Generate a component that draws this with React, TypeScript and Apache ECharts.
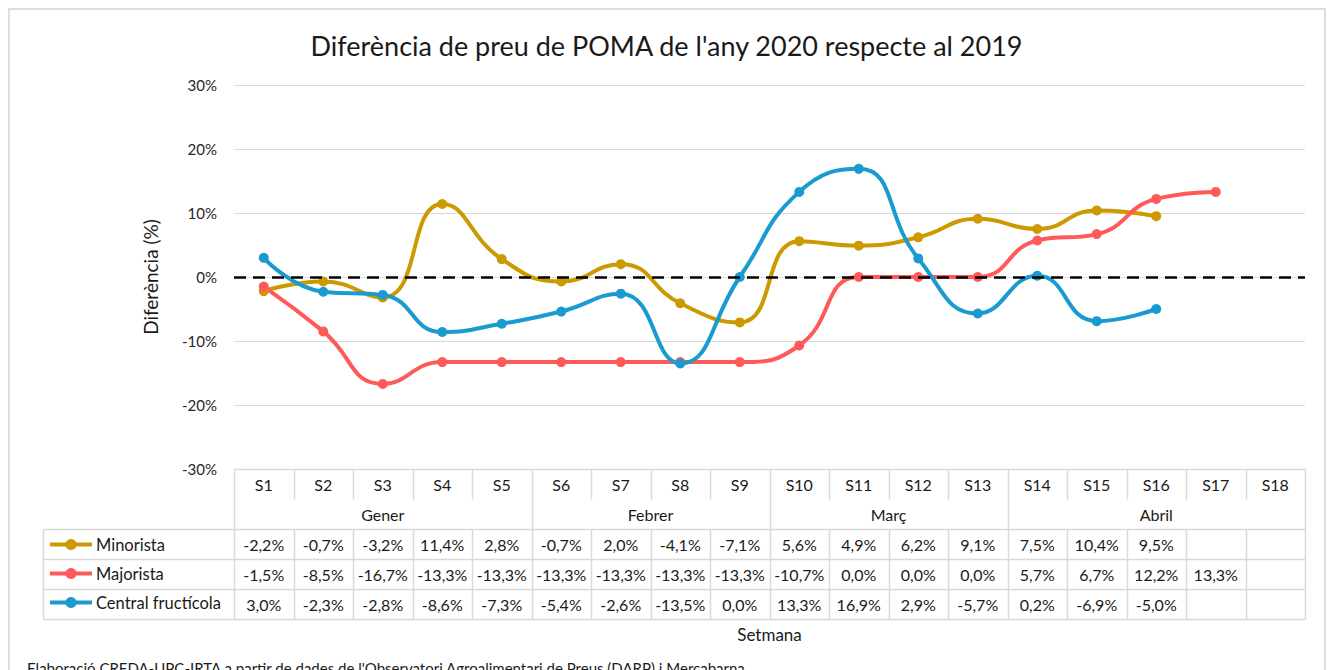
import React, { useEffect, useRef } from "react";
import * as echarts from "echarts";

const weeks = ["S1", "S2", "S3", "S4", "S5", "S6", "S7", "S8", "S9", "S10", "S11", "S12", "S13", "S14", "S15", "S16", "S17", "S18"];
const monthNames = ["Gener", "Febrer", "Març", "Abril"];
const monthSpans = [5, 4, 4, 5];
const seriesNames = ["Minorista", "Majorista", "Central fructícola"];
const seriesColors = ["#CC9A00", "#FF5A5A", "#1A9BCF"];
const minorista = [-2.2, -0.7, -3.2, 11.4, 2.8, -0.7, 2.0, -4.1, -7.1, 5.6, 4.9, 6.2, 9.1, 7.5, 10.4, 9.5, null, null];
const majorista = [-1.5, -8.5, -16.7, -13.3, -13.3, -13.3, -13.3, -13.3, -13.3, -10.7, 0.0, 0.0, 0.0, 5.7, 6.7, 12.2, 13.3, null];
const central = [3.0, -2.3, -2.8, -8.6, -7.3, -5.4, -2.6, -13.5, 0.0, 13.3, 16.9, 2.9, -5.7, 0.2, -6.9, -5.0, null, null];
const seriesValues = [minorista, majorista, central];

const FONT = "Lato";
const GRID_LEFT = 234;
const GRID_RIGHT = 28;
const LEGEND_COL = 191;
const BORDER = "#D9D9D9";

const fmt = (v: number | null) => (v == null ? "" : v.toFixed(1).replace(".", ",") + "%");

type Cell =
  | { kind: "text"; x: number; y: number; text: string }
  | { kind: "line"; x1: number | null; y1: number; x2: number | null; y2: number };

function buildCells(): Cell[] {
  const cells: Cell[] = [];
  const n = weeks.length;
  const bounds: number[] = [0];
  monthSpans.forEach((s) => bounds.push(bounds[bounds.length - 1] + s));
  cells.push({ kind: "line", x1: 0, y1: 0, x2: n, y2: 0 });
  for (let i = 0; i <= n; i++) {
    if (bounds.includes(i)) {
      cells.push({ kind: "line", x1: i, y1: 0, x2: i, y2: 5 });
    } else {
      cells.push({ kind: "line", x1: i, y1: 0, x2: i, y2: 1 });
      cells.push({ kind: "line", x1: i, y1: 2, x2: i, y2: 5 });
    }
  }
  for (let r = 2; r <= 5; r++) cells.push({ kind: "line", x1: null, y1: r, x2: n, y2: r });
  cells.push({ kind: "line", x1: null, y1: 2, x2: null, y2: 5 });
  weeks.forEach((w, i) => cells.push({ kind: "text", x: i + 0.5, y: 0.5, text: w }));
  monthNames.forEach((m, k) => cells.push({ kind: "text", x: bounds[k] + monthSpans[k] / 2, y: 1.5, text: m }));
  seriesValues.forEach((vals, r) =>
    vals.forEach((v, i) => {
      const t = fmt(v);
      if (t) cells.push({ kind: "text", x: i + 0.5, y: 2.5 + r, text: t });
    })
  );
  return cells;
}

export default function App() {
  const ref = useRef<HTMLDivElement>(null);
  useEffect(() => {
    if (!ref.current) return;
    const chart = echarts.init(ref.current, undefined, { renderer: "svg" });
    const cells = buildCells();
    const option: any = {
      animation: false,
      title: [
        {
          text: "Diferència de preu de POMA de l'any 2020 respecte al 2019",
          left: "center",
          top: 27,
          textStyle: { fontFamily: FONT, fontSize: 27, fontWeight: "normal", color: "#1a1a1a" },
        },
        {
          text: "Elaboració CREDA-UPC-IRTA a partir de dades de l'Observatori Agroalimentari de Preus (DARP) i Mercabarna",
          left: 22,
          top: 655,
          textStyle: { fontFamily: FONT, fontSize: 15, fontWeight: "normal", color: "#1a1a1a" },
        },
      ],
      legend: {
        data: seriesNames,
        orient: "vertical",
        left: 48,
        top: 536,
        padding: 0,
        itemWidth: 42,
        itemHeight: 14,
        itemGap: 12,
        selectedMode: false,
        lineStyle: { width: 4 },
        itemStyle: { borderWidth: 0 },
        textStyle: { fontFamily: FONT, fontSize: 16.5, color: "#1a1a1a", padding: [0, 0, 0, -1] },
      },
      grid: [
        { left: GRID_LEFT, right: GRID_RIGHT, top: 85, height: 384 },
        { left: GRID_LEFT, right: GRID_RIGHT, top: 469, height: 150 },
      ],
      xAxis: [
        {
          gridIndex: 0,
          type: "category",
          data: weeks,
          boundaryGap: true,
          axisLine: { show: false },
          axisTick: { show: false },
          axisLabel: { show: false },
        },
        {
          gridIndex: 1,
          type: "value",
          min: 0,
          max: weeks.length,
          axisLine: { show: false },
          axisTick: { show: false },
          axisLabel: { show: false },
          splitLine: { show: false },
          name: "Setmana",
          nameLocation: "middle",
          nameGap: 7,
          nameTextStyle: { fontFamily: FONT, fontSize: 17, color: "#1a1a1a", verticalAlign: "top" },
        },
      ],
      yAxis: [
        {
          gridIndex: 0,
          type: "value",
          min: -30,
          max: 30,
          interval: 10,
          axisLine: { show: false },
          axisTick: { show: false },
          axisLabel: { formatter: (v: number) => v + "%", fontFamily: FONT, fontSize: 15, color: "#262626", margin: 17 },
          splitLine: { lineStyle: { color: BORDER, width: 1 } },
          name: "Diferència (%)",
          nameLocation: "middle",
          nameRotate: 90,
          nameGap: 74,
          nameTextStyle: { fontFamily: FONT, fontSize: 19, color: "#1a1a1a" },
        },
        {
          gridIndex: 1,
          type: "value",
          min: 0,
          max: 5,
          inverse: true,
          show: false,
        },
      ],
      series: [
        ...seriesNames.map((name, k) => ({
          name,
          type: "line",
          xAxisIndex: 0,
          yAxisIndex: 0,
          data: seriesValues[k],
          smooth: 0.5,
          symbol: "circle",
          symbolSize: 10,
          z: 3,
          itemStyle: { color: seriesColors[k] },
          lineStyle: { color: seriesColors[k], width: 4 },
        })),
        {
          type: "line",
          xAxisIndex: 0,
          yAxisIndex: 0,
          data: [],
          z: 2,
          markLine: {
            silent: true,
            symbol: "none",
            label: { show: false },
            lineStyle: { color: "#000", width: 2.5, type: [12, 7] },
            data: [{ yAxis: 0 }],
          },
        },
        {
          type: "custom",
          xAxisIndex: 1,
          yAxisIndex: 1,
          clip: false,
          silent: true,
          data: cells.map((c) => (c.kind === "line" ? [c.x2 ?? 0, c.y2] : [c.x, c.y])),
          renderItem: (params: any, api: any) => {
            const c = cells[params.dataIndex];
            if (c.kind === "line") {
              const p1 = api.coord([c.x1 ?? 0, c.y1]);
              const p2 = api.coord([c.x2 ?? 0, c.y2]);
              if (c.x1 == null) p1[0] -= LEGEND_COL;
              if (c.x2 == null) p2[0] -= LEGEND_COL;
              return {
                type: "line",
                shape: {
                  x1: Math.round(p1[0]) + 0.5,
                  y1: Math.round(p1[1]) + 0.5,
                  x2: Math.round(p2[0]) + 0.5,
                  y2: Math.round(p2[1]) + 0.5,
                },
                style: { stroke: BORDER, lineWidth: 1.5 },
              };
            }
            const p = api.coord([c.x, c.y]);
            return {
              type: "text",
              x: p[0],
              y: p[1],
              style: {
                text: c.text,
                align: "center",
                verticalAlign: "middle",
                fontFamily: FONT,
                fontSize: 16,
                fill: "#1a1a1a",
              },
            };
          },
        },
      ],
    };
    chart.setOption(option);
    return () => chart.dispose();
  }, []);
  return (
    <div style={{ position: "fixed", left: 0, top: 0, width: 1333, height: 670, overflow: "hidden", background: "#fff" }}>
      <div
        style={{
          position: "absolute",
          left: 8,
          top: 8,
          width: 1318,
          height: 700,
          border: "2px solid #DDDDDD",
          boxSizing: "border-box",
        }}
      />
      <div ref={ref} style={{ position: "absolute", left: 0, top: 0, width: 1333, height: 670 }} />
    </div>
  );
}
